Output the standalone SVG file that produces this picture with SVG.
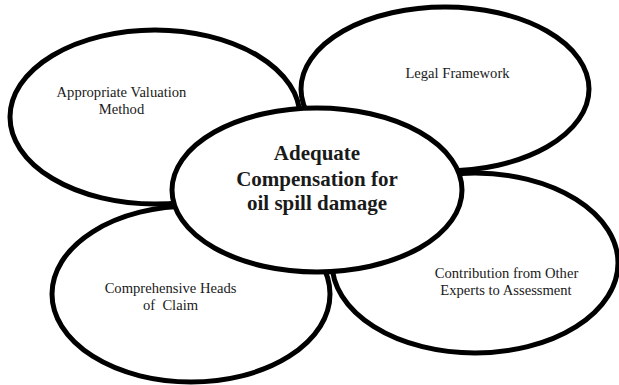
<svg xmlns="http://www.w3.org/2000/svg" width="619" height="385" viewBox="0 0 619 385">
  <style>
    .bubble { fill: #ffffff; stroke: #000000; stroke-width: 5; }
    .label { font-family: "Liberation Serif", "Times New Roman", serif; font-size: 14.6px; fill: #1a1a1a; text-anchor: middle; white-space: pre; }
    .core { font-family: "Liberation Serif", "Times New Roman", serif; font-size: 21px; font-weight: bold; fill: #1a1a1a; text-anchor: middle; }
  </style>
  <rect width="619" height="385" fill="#ffffff"/>

  <g id="valuation">
    <ellipse class="bubble" cx="155" cy="117" rx="145" ry="87"/>
    <text class="label" x="121.5" y="97">Appropriate Valuation</text>
    <text class="label" x="121.5" y="114">Method</text>
  </g>

  <g id="legal">
    <ellipse class="bubble" cx="445" cy="89" rx="144" ry="82"/>
    <text class="label" x="457.5" y="78">Legal Framework</text>
  </g>

  <g id="heads">
    <ellipse class="bubble" cx="191" cy="294" rx="139" ry="88"/>
    <text class="label" x="170.5" y="293">Comprehensive Heads</text>
    <text class="label" x="170.5" y="310">of  Claim</text>
  </g>

  <g id="experts">
    <ellipse class="bubble" cx="475" cy="263" rx="143" ry="90"/>
    <text class="label" x="506.5" y="278">Contribution from Other</text>
    <text class="label" x="506" y="295">Experts to Assessment</text>
  </g>

  <g id="compensation">
    <ellipse class="bubble" cx="317" cy="190" rx="145" ry="82"/>
    <text class="core" x="317" y="160">Adequate</text>
    <text class="core" x="317" y="186">Compensation for</text>
    <text class="core" x="317" y="210">oil spill damage</text>
  </g>

  <g id="connectors"/>
</svg>
